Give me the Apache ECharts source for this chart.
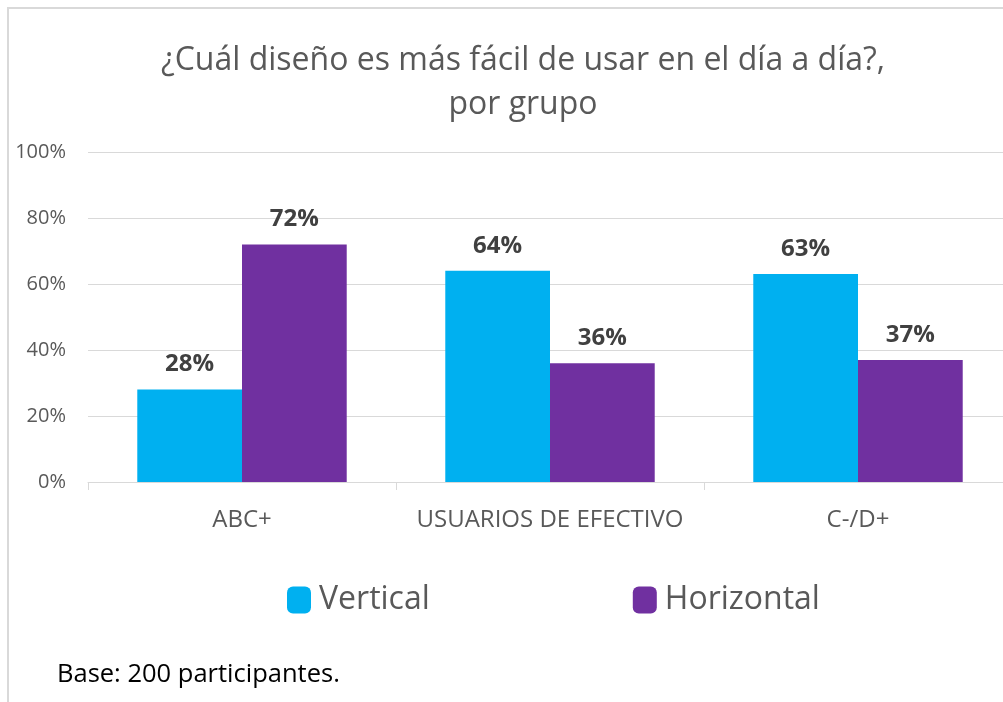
<!DOCTYPE html>
<html>
<head>
<meta charset="utf-8">
<script src="https://cdn.jsdelivr.net/npm/echarts@6/dist/echarts.min.js"></script>
<style>
  html, body { margin: 0; padding: 0; background: #fff; }
  #chart { width: 1003px; height: 702px; }
</style>
</head>
<body>
<div id="chart"></div>
<script>
// datos
const grupos = ['ABC+', 'USUARIOS DE EFECTIVO', 'C-/D+'];
const vertical = [28, 64, 63];
const horizontal = [72, 36, 37];
const yTicks = [0, 20, 40, 60, 80, 100];

const FONT = '"Open Sans", "Noto Sans", sans-serif';
const GRIS = '#595959';

const chart = echarts.init(document.getElementById('chart'));
const option = {
    backgroundColor: '#fff',
    textStyle: { fontFamily: FONT },
    graphic: [{
        type: 'rect',
        shape: { x: 8, y: 8, width: 1100, height: 900 },
        style: { fill: 'none', stroke: '#d9d9d9', lineWidth: 2 },
        silent: true
    }, {
        type: 'text',
        left: 57,
        top: 662,
        style: {
            text: 'Base: 200 participantes.',
            fill: '#000',
            font: '25.5px ' + FONT
        }
    }],
    title: {
        text: '¿Cuál diseño es más fácil de usar en el día a día?,\npor grupo',
        left: 518,
        textAlign: 'center',
        top: 34,
        textStyle: {
            color: GRIS,
            fontSize: 32,
            fontWeight: 'normal',
            lineHeight: 44,
            fontFamily: FONT
        }
    },
    legend: {
        data: ['Vertical', 'Horizontal'],
        left: 282,
        top: 579,
        itemWidth: 24,
        itemHeight: 27,
        itemGap: 203,
        icon: 'roundRect',
        textStyle: { color: GRIS, fontSize: 32, fontFamily: FONT, padding: [0, 0, 0, 3] }
    },
    grid: {
        left: 88,
        top: 152,
        width: 924,
        height: 330,
        outerBoundsMode: 'none'
    },
    xAxis: {
        type: 'category',
        data: grupos,
        axisLine: { lineStyle: { color: '#d9d9d9' } },
        axisTick: { show: true, length: 8, lineStyle: { color: '#d9d9d9' } },
        axisLabel: { color: GRIS, fontSize: 24, margin: 26, interval: 0 }
    },
    yAxis: {
        type: 'value',
        min: 0,
        max: 100,
        interval: 20,
        axisLine: { show: false },
        axisTick: { show: false },
        splitLine: { lineStyle: { color: '#d9d9d9' } },
        axisLabel: {
            color: GRIS,
            fontSize: 20,
            margin: 22,
            formatter: v => yTicks.includes(v) ? v + '%' : ''
        }
    },
    series: [{
        name: 'Vertical',
        type: 'bar',
        data: vertical,
        barGap: '0%',
        barCategoryGap: '32%',
        itemStyle: { color: '#00b0f0' },
        label: {
            show: true,
            position: 'top',
            distance: 13,
            formatter: '{c}%',
            color: '#404040',
            fontSize: 24,
            fontWeight: 'bold'
        }
    }, {
        name: 'Horizontal',
        type: 'bar',
        data: horizontal,
        barGap: '0%',
        barCategoryGap: '32%',
        itemStyle: { color: '#7030a0' },
        label: {
            show: true,
            position: 'top',
            distance: 13,
            formatter: '{c}%',
            color: '#404040',
            fontSize: 24,
            fontWeight: 'bold'
        }
    }]
};
chart.setOption(option);
</script>
</body>
</html>
